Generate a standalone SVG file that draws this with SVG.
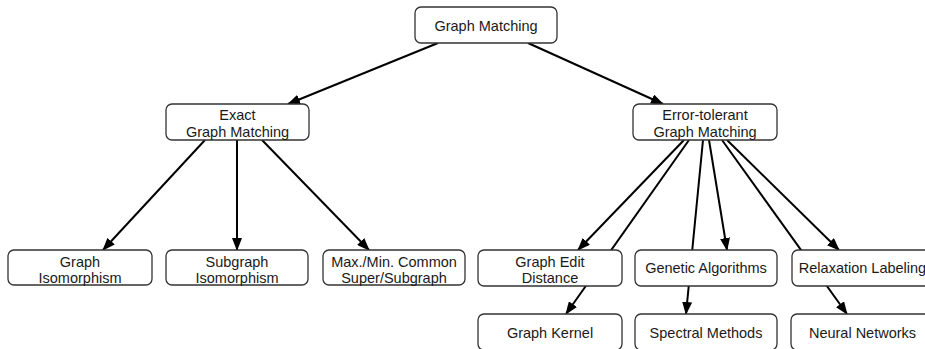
<svg xmlns="http://www.w3.org/2000/svg" width="925" height="349" viewBox="0 0 925 349">
<defs>
<marker id="ah" markerUnits="userSpaceOnUse" markerWidth="13" markerHeight="10" viewBox="0 0 13 10" refX="12" refY="5" orient="auto">
<path d="M0,0 L13,5 L0,10 z" fill="#000"/>
</marker>
<style>
.box{fill:#fff;stroke:#333;stroke-width:1.3}
.lbl{font-family:"Liberation Sans",Arial,Helvetica,sans-serif;font-size:14.5px;fill:#1a1a1a;text-anchor:middle}
.edge{stroke:#000;stroke-width:2;fill:none;marker-end:url(#ah)}
</style>
</defs>
<rect width="925" height="349" fill="#fff"/>
<g id="connectors">
<line class="edge" x1="438" y1="43" x2="288" y2="104"/>
<line class="edge" x1="528" y1="43" x2="663" y2="104"/>
<line class="edge" x1="205" y1="140" x2="103" y2="250"/>
<line class="edge" x1="237" y1="140" x2="237" y2="250"/>
<line class="edge" x1="262" y1="140" x2="369" y2="250"/>
<line class="edge" x1="684" y1="140" x2="578" y2="250"/>
<line class="edge" x1="689" y1="140" x2="566" y2="314"/>
<line class="edge" x1="703" y1="140" x2="686" y2="314"/>
<line class="edge" x1="709" y1="140" x2="727" y2="250"/>
<line class="edge" x1="722" y1="140" x2="847" y2="314"/>
<line class="edge" x1="727" y1="140" x2="839" y2="250"/>
</g>
<g id="n-graph-matching"><rect class="box" x="415" y="7" width="142" height="36" rx="6"/><text class="lbl" x="486" y="30.5">Graph Matching</text></g>
<g id="n-exact"><rect class="box" x="166" y="104" width="143" height="36" rx="6"/><text class="lbl" x="237.5" y="120">Exact</text><text class="lbl" x="237.5" y="137">Graph Matching</text></g>
<g id="n-error-tolerant"><rect class="box" x="633" y="104" width="144" height="36" rx="6"/><text class="lbl" x="705" y="120">Error-tolerant</text><text class="lbl" x="705" y="137">Graph Matching</text></g>
<g id="n-graph-iso"><rect class="box" x="8" y="250" width="144" height="35" rx="6"/><text class="lbl" x="80" y="266.5">Graph</text><text class="lbl" x="80" y="283">Isomorphism</text></g>
<g id="n-subgraph-iso"><rect class="box" x="166" y="250" width="142" height="35" rx="6"/><text class="lbl" x="237" y="266.5">Subgraph</text><text class="lbl" x="237" y="283">Isomorphism</text></g>
<g id="n-maxmin"><rect class="box" x="323" y="250" width="142" height="35" rx="6"/><text class="lbl" x="394" y="266.5">Max./Min. Common</text><text class="lbl" x="394" y="283">Super/Subgraph</text></g>
<g id="n-ged"><rect class="box" x="478" y="250" width="144" height="36" rx="6"/><text class="lbl" x="550" y="266.5">Graph Edit</text><text class="lbl" x="550" y="283">Distance</text></g>
<g id="n-genetic"><rect class="box" x="635" y="250" width="142" height="36" rx="6"/><text class="lbl" x="706" y="273">Genetic Algorithms</text></g>
<g id="n-relaxation"><rect class="box" x="792" y="250" width="143" height="36" rx="6"/><text class="lbl" x="862.5" y="273">Relaxation Labeling</text></g>
<g id="n-kernel"><rect class="box" x="478" y="314" width="144" height="36" rx="6"/><text class="lbl" x="550" y="338">Graph Kernel</text></g>
<g id="n-spectral"><rect class="box" x="635" y="314" width="142" height="36" rx="6"/><text class="lbl" x="706" y="338">Spectral Methods</text></g>
<g id="n-neural"><rect class="box" x="791" y="314" width="143" height="36" rx="6"/><text class="lbl" x="862.5" y="338">Neural Networks</text></g>
</svg>
